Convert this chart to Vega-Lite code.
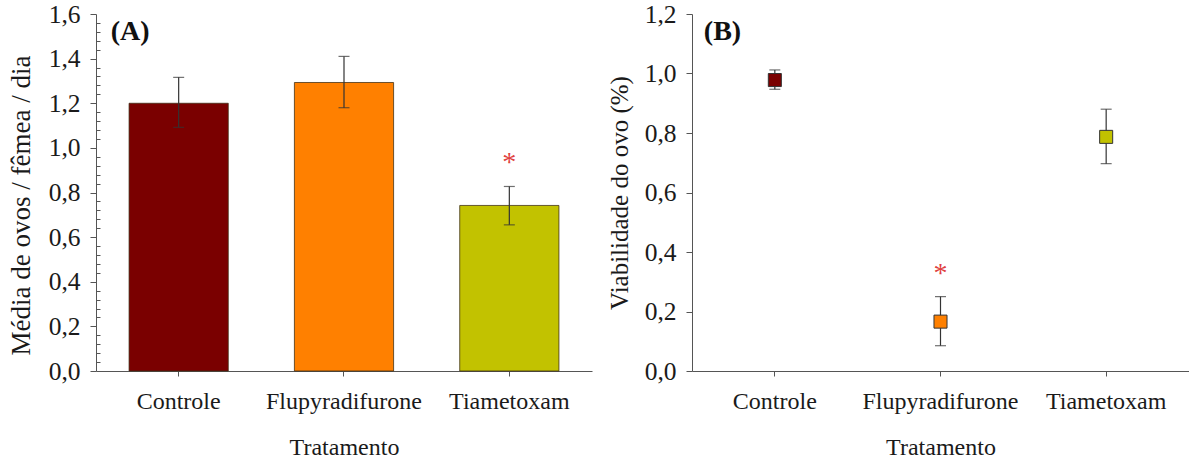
{
  "$schema": "https://vega.github.io/schema/vega-lite/v6.json",
  "padding": {"left": 7, "top": 2, "right": 0, "bottom": 0},
  "background": "white",
  "spacing": 15,
  "datasets": {
    "ovos": [
      {"tratamento": "Controle", "media": 1.2, "lower": 1.092, "upper": 1.316, "sig": ""},
      {"tratamento": "Flupyradifurone", "media": 1.293, "lower": 1.18, "upper": 1.41, "sig": ""},
      {"tratamento": "Tiametoxam", "media": 0.742, "lower": 0.655, "upper": 0.827, "sig": "*"}
    ],
    "viab": [
      {"tratamento": "Controle", "media": 0.978, "lower": 0.947, "upper": 1.012, "sig": ""},
      {"tratamento": "Flupyradifurone", "media": 0.166, "lower": 0.085, "upper": 0.25, "sig": "*"},
      {"tratamento": "Tiametoxam", "media": 0.787, "lower": 0.697, "upper": 0.88, "sig": ""}
    ]
  },
  "hconcat": [
    {
      "width": 496,
      "height": 357,
      "data": {"name": "ovos"},
      "encoding": {
        "x": {
          "field": "tratamento", "type": "nominal", "sort": null,
          "scale": {"paddingInner": 0.4, "paddingOuter": 0.2},
          "axis": {"title": "Tratamento", "labelAngle": 0, "tickSize": 5, "labelPadding": 13, "titlePadding": 22, "labelFontSize": 24, "titleFontSize": 24}
        }
      },
      "layer": [
        {
          "mark": {"type": "bar", "stroke": "#3a2a10", "strokeWidth": 1, "strokeOpacity": 0.75},
          "encoding": {
            "y": {
              "field": "media", "type": "quantitative",
              "scale": {"domain": [0, 1.6], "nice": false},
              "axis": {
                "title": "Média de ovos / fêmea / dia",
                "values": [0,0.04,0.08,0.12,0.16,0.2,0.24,0.28,0.32,0.36,0.4,0.44,0.48,0.52,0.56,0.6,0.64,0.68,0.72,0.76,0.8,0.84,0.88,0.92,0.96,1.0,1.04,1.08,1.12,1.16,1.2,1.24,1.28,1.32,1.36,1.4,1.44,1.48,1.52,1.56,1.6],
                "tickCount": 100,
                "labelExpr": "abs(datum.value*5 - round(datum.value*5)) < 0.01 ? replace(format(datum.value, '.1f'), '.', ',') : ''",
                "tickSize": {"condition": {"test": "abs(datum.value*5 - round(datum.value*5)) < 0.01", "value": 6}, "value": -4},
                "labelOverlap": false,
                "labelPadding": 10,
                "titlePadding": 13,
                "titleY": 191,
                "labelFontSize": 25.5,
                "titleFontSize": 27
              }
            },
            "color": {
              "field": "tratamento", "type": "nominal",
              "scale": {"domain": ["Controle", "Flupyradifurone", "Tiametoxam"], "range": ["#7A0000", "#FF8000", "#C2C200"]},
              "legend": null
            }
          }
        },
        {
          "mark": {"type": "rule", "color": "#333333", "strokeWidth": 1.2},
          "encoding": {"y": {"field": "lower", "type": "quantitative"}, "y2": {"field": "upper"}}
        },
        {
          "mark": {"type": "tick", "orient": "horizontal", "size": 11, "thickness": 1.2, "color": "#333333"},
          "encoding": {"y": {"field": "lower", "type": "quantitative"}}
        },
        {
          "mark": {"type": "tick", "orient": "horizontal", "size": 11, "thickness": 1.2, "color": "#333333"},
          "encoding": {"y": {"field": "upper", "type": "quantitative"}}
        },
        {
          "transform": [{"filter": "datum.sig != ''"}],
          "mark": {"type": "text", "dy": -15, "fontSize": 28, "color": "#E04040", "baseline": "alphabetic"},
          "encoding": {"y": {"field": "upper", "type": "quantitative"}, "text": {"field": "sig"}}
        },
        {
          "data": {"values": [{"label": "(A)"}]},
          "mark": {"type": "text", "fontWeight": "bold", "fontSize": 28, "align": "left", "dx": -68, "baseline": "middle", "color": "#111111"},
          "encoding": {"x": {"datum": "Controle"}, "y": {"datum": 1.52}, "text": {"field": "label"}}
        }
      ]
    },
    {
      "width": 497,
      "height": 357,
      "data": {"name": "viab"},
      "encoding": {
        "x": {
          "field": "tratamento", "type": "nominal", "sort": null,
          "scale": {"paddingInner": 0, "paddingOuter": 0},
          "axis": {"title": "Tratamento", "labelAngle": 0, "tickSize": 5, "labelPadding": 13, "titlePadding": 22, "labelFontSize": 24, "titleFontSize": 24}
        }
      },
      "layer": [
        {
          "mark": {"type": "rule", "color": "#333333", "strokeWidth": 1.2},
          "encoding": {
            "y": {
              "field": "lower", "type": "quantitative",
              "scale": {"domain": [0, 1.2], "nice": false},
              "axis": {
                "title": "Viabilidade do ovo (%)",
                "values": [0, 0.2, 0.4, 0.6, 0.8, 1.0, 1.2],
                "labelExpr": "replace(format(datum.value, '.1f'), '.', ',')",
                "tickSize": 6,
                "labelPadding": 10,
                "titlePadding": 12,
                "labelFontSize": 25.5,
                "titleFontSize": 25
              }
            },
            "y2": {"field": "upper"}
          }
        },
        {
          "mark": {"type": "tick", "orient": "horizontal", "size": 11, "thickness": 1.2, "color": "#333333"},
          "encoding": {"y": {"field": "lower", "type": "quantitative"}}
        },
        {
          "mark": {"type": "tick", "orient": "horizontal", "size": 11, "thickness": 1.2, "color": "#333333"},
          "encoding": {"y": {"field": "upper", "type": "quantitative"}}
        },
        {
          "mark": {"type": "square", "size": 170, "stroke": "#333333", "strokeWidth": 1, "opacity": 1},
          "encoding": {
            "y": {"field": "media", "type": "quantitative"},
            "color": {
              "field": "tratamento", "type": "nominal",
              "scale": {"domain": ["Controle", "Flupyradifurone", "Tiametoxam"], "range": ["#7A0000", "#FF8000", "#C2C200"]},
              "legend": null
            }
          }
        },
        {
          "transform": [{"filter": "datum.sig != ''"}],
          "mark": {"type": "text", "dy": -15, "fontSize": 28, "color": "#E04040", "baseline": "alphabetic"},
          "encoding": {"y": {"field": "upper", "type": "quantitative"}, "text": {"field": "sig"}}
        },
        {
          "data": {"values": [{"label": "(B)"}]},
          "mark": {"type": "text", "fontWeight": "bold", "fontSize": 28, "align": "left", "dx": -71, "baseline": "middle", "color": "#111111"},
          "encoding": {"x": {"datum": "Controle"}, "y": {"datum": 1.14}, "text": {"field": "label"}}
        }
      ]
    }
  ],
  "config": {
    "view": {"stroke": null},
    "font": "Liberation Serif",
    "axis": {
      "grid": false,
      "domainColor": "#555555",
      "tickColor": "#555555",
      "labelColor": "#1a1a1a",
      "titleColor": "#1a1a1a",
      "labelFont": "Liberation Serif",
      "titleFont": "Liberation Serif",
      "titleFontWeight": "normal"
    }
  }
}
